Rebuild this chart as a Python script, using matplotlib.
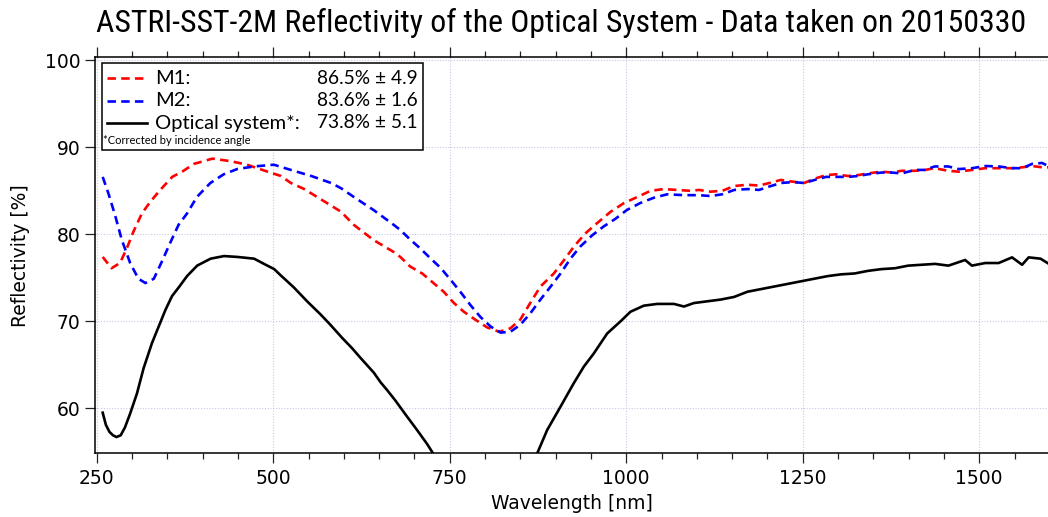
import matplotlib
matplotlib.use("Agg")
import matplotlib.pyplot as plt
from matplotlib.patches import Rectangle
from matplotlib.lines import Line2D
from matplotlib import font_manager as fm

# ---------------- data ----------------
wl_m1 = [258.5, 271, 283, 292.7, 302, 314, 326, 340, 357, 371, 388, 414, 440, 463, 492, 511, 525, 544,
         573, 596, 614, 642, 670, 680, 694, 711, 727, 741.5, 756, 770, 786, 803, 820, 836, 850, 864,
         878.5, 897.5, 912, 926, 942, 959, 978, 997, 1016, 1034.5, 1053, 1072, 1091, 1103, 1119.5, 1136,
         1153, 1172, 1188, 1203, 1219, 1236, 1252, 1267, 1283, 1297, 1314, 1328, 1342.5, 1361.5, 1376,
         1390, 1409, 1423, 1437, 1456, 1471, 1490, 1508.5, 1527.5, 1546.5, 1561, 1575, 1589, 1599]
refl_m1 = [77.4, 76.1, 76.7, 78.4, 80.3, 82.4, 83.75, 85.1, 86.6, 87.2, 88.1, 88.7, 88.4, 88.0, 87.2, 86.7,
           85.9, 85.2, 83.75, 82.6, 81.1, 79.35, 78.0, 77.4, 76.3, 75.5, 74.4, 73.4, 72.1, 71.1, 70.2, 69.3,
           68.8, 69.2, 70.2, 72.1, 74.0, 75.5, 77.05, 78.6, 80.1, 81.3, 82.6, 83.6, 84.3, 85.0, 85.2, 85.1,
           85.0, 85.1, 84.9, 85.0, 85.55, 85.7, 85.6, 85.9, 86.25, 86.05, 85.9, 86.4, 86.8, 86.9, 86.7, 86.8,
           87.0, 87.2, 87.1, 87.3, 87.3, 87.4, 87.6, 87.3, 87.2, 87.4, 87.6, 87.6, 87.6, 87.7, 87.85, 87.7, 87.7]

wl_m2 = [258.5, 266.6, 276, 285.6, 297.4, 309, 319, 331, 342.5, 354, 366, 378, 392, 411, 430, 449, 473,
         501, 525, 554, 582, 596, 614, 642, 670.5, 680, 694, 708, 722.6, 737, 751, 765, 779, 793.5, 808,
         822, 836, 850, 864, 878.5, 893, 907, 921, 935, 952, 968, 985, 1001, 1020, 1039, 1058, 1082,
         1103, 1119.5, 1136, 1153, 1172, 1188, 1203, 1219, 1236, 1252, 1267, 1283, 1297, 1314, 1328,
         1342.5, 1361.5, 1376, 1390, 1409, 1423, 1437, 1456, 1471, 1490, 1508.5, 1527.5, 1546.5, 1561,
         1575, 1589, 1599]
refl_m2 = [86.6, 84.7, 82.2, 79.35, 76.7, 74.9, 74.4, 74.9, 76.9, 79.0, 81.1, 82.4, 84.3, 85.9, 86.9, 87.5,
           87.8, 88.0, 87.4, 86.7, 85.9, 85.3, 84.3, 82.8, 81.1, 80.5, 79.4, 78.4, 77.25, 76.15, 74.8, 73.4,
           71.9, 70.5, 69.4, 68.7, 68.8, 69.6, 70.9, 72.5, 74.0, 75.5, 77.2, 78.6, 79.9, 80.9, 81.8, 82.8,
           83.6, 84.2, 84.6, 84.5, 84.5, 84.4, 84.6, 85.1, 85.2, 85.1, 85.5, 85.9, 86.0, 85.9, 86.25, 86.6,
           86.6, 86.6, 86.7, 86.9, 87.1, 87.1, 87.0, 87.4, 87.4, 87.8, 87.8, 87.5, 87.6, 87.85, 87.8, 87.6,
           87.6, 88.1, 88.2, 87.8]

wl_opt = [258.5, 263, 268, 273, 278, 284, 290, 297.4, 307, 316.4, 328.3, 337.8, 347.3, 356.7, 366.2, 378,
          392.3, 411.3, 430.3, 449.2, 473, 487, 501.4, 510.4, 529.2, 548, 567, 581, 597.6, 611.8, 623.6,
          642.5, 652, 661.3, 673, 687.3, 703.8, 718, 725, 733, 866, 873.8, 888, 907, 925.8, 940, 954, 973,
          992, 1006, 1025, 1044, 1067.6, 1081.8, 1095.8, 1114.8, 1133.8, 1152.7, 1171.7, 1190.7, 1209.7,
          1228.7, 1247.6, 1266.6, 1285.6, 1304.6, 1323.5, 1342.5, 1361.5, 1380.5, 1399.4, 1418.4, 1437.4,
          1456.4, 1480, 1489.6, 1508.5, 1527.5, 1546.5, 1560.7, 1570, 1586.8, 1598.7]
refl_opt = [59.5, 58.1, 57.3, 56.9, 56.7, 56.9, 57.8, 59.4, 61.7, 64.6, 67.5, 69.4, 71.3, 72.9, 73.9, 75.2,
            76.4, 77.2, 77.5, 77.4, 77.2, 76.6, 76.0, 75.3, 73.9, 72.3, 70.8, 69.6, 68.1, 66.9, 65.8, 64.1,
            63.0, 62.1, 60.9, 59.3, 57.5, 55.9, 55.0, 53.8, 53.8, 54.8, 57.5, 60.2, 62.9, 64.8, 66.3, 68.6,
            70.0, 71.1, 71.8, 72.0, 72.0, 71.7, 72.1, 72.3, 72.5, 72.8, 73.4, 73.7, 74.0, 74.3, 74.6, 74.9,
            75.2, 75.4, 75.5, 75.8, 76.0, 76.1, 76.4, 76.5, 76.6, 76.4, 77.05, 76.4, 76.7, 76.7, 77.35, 76.5,
            77.35, 77.2, 76.6]

series_labels = ["M1:", "M2:", "Optical system*:"]
series_values = ["86.5% \u00b1 4.9", "83.6% \u00b1 1.6", "73.8% \u00b1 5.1"]
footnote = "*Corrected by incidence angle"
title = "ASTRI-SST-2M Reflectivity of the Optical System - Data taken on 20150330"
xlabel = "Wavelength [nm]"
ylabel = "Reflectivity [%]"
xticks = [250, 500, 750, 1000, 1250, 1500]
yticks = [60, 70, 80, 90, 100]

# ---------------- fonts ----------------
names = {f.name for f in fm.fontManager.ttflist}
title_family = "DejaVu Sans"
for cand in ["Roboto Condensed", "DejaVu Sans Condensed", "Liberation Sans Narrow"]:
    if cand in names:
        title_family = cand
        break
legend_family = ['Lato', 'DejaVu Sans']
plt.rcParams['font.family'] = ['DejaVu Sans']

W, H = 1048, 517
fig = plt.figure(figsize=(W / 100, H / 100), dpi=100)
ax_l, ax_r, ax_t, ax_b = 95, 1049, 57, 453.3
ax = fig.add_axes([ax_l / W, 1 - ax_b / H, (ax_r - ax_l) / W, (ax_b - ax_t) / H])

dash_kw = dict(lw=1.9, dashes=(3.2, 2.0))
ax.plot(wl_m1, refl_m1, color='#ff0000', **dash_kw)
ax.plot(wl_m2, refl_m2, color='#0000ff', **dash_kw)
ax.plot(wl_opt, refl_opt, color='black', lw=1.9)

ax.set_xlim(247.6, 1598.8)
ax.set_ylim(54.83, 100.38)
ax.set_xticks(xticks)
ax.set_xticks(range(300, 1600, 50), minor=True)
ax.set_yticks(yticks)
ax.grid(True, which='major', color='#c8c8e6', lw=0.8, ls=(0, (1, 1.5)))

ax.tick_params(axis='x', which='major', direction='out', length=7.5, width=0.9, labelsize=13.5,
               pad=4, top=True, colors='#222222', labelcolor='black')
ax.tick_params(axis='x', which='minor', direction='out', length=4.5, width=0.9, top=True, colors='#222222')
ax.tick_params(axis='y', which='major', direction='out', length=7.5, width=0.9, labelsize=13.5,
               pad=3, colors='#222222', labelcolor='black')
for s in ax.spines.values():
    s.set_linewidth(1.1)
ax.spines['right'].set_visible(False)

ax.set_xlabel(xlabel, fontsize=13.5, labelpad=4)
ax.set_ylabel(ylabel, fontsize=13.5, labelpad=11)

fig.text(561 / W, 1 - 32 / H, title, ha='center', va='baseline', fontsize=22.9, family=title_family)

# ---------------- legend box ----------------
def axx(px):
    return (px - ax_l) / (ax_r - ax_l)

def axy(py):
    return 1 - (py - ax_t) / (ax_b - ax_t)

tr = ax.transAxes
ax.add_patch(Rectangle((axx(101.7), axy(149.5)), axx(423) - axx(101.7), axy(63.3) - axy(149.5),
                       transform=tr, facecolor='white', edgecolor='black', lw=1.1, zorder=5))
rows = [78, 101, 123]
styles = [dict(color='#ff0000', **dash_kw), dict(color='#0000ff', **dash_kw), dict(color='black', lw=1.9)]
for py, lab, val, st in zip(rows, series_labels, series_values, styles):
    ax.add_line(Line2D([axx(107), axx(147)], [axy(py), axy(py)], transform=tr, zorder=6, **st))
    ax.text(axx(155), axy(py), lab, transform=tr, fontsize=14.5, va='center', ha='left', zorder=6,
            family=legend_family)
    ax.text(axx(418), axy(py), val, transform=tr, fontsize=13.8, va='center', ha='right', zorder=6,
            family=legend_family)
ax.text(axx(103), axy(140), footnote, transform=tr, fontsize=8, va='center', ha='left', zorder=6,
        family=legend_family)

fig.savefig("out.png", dpi=100)
